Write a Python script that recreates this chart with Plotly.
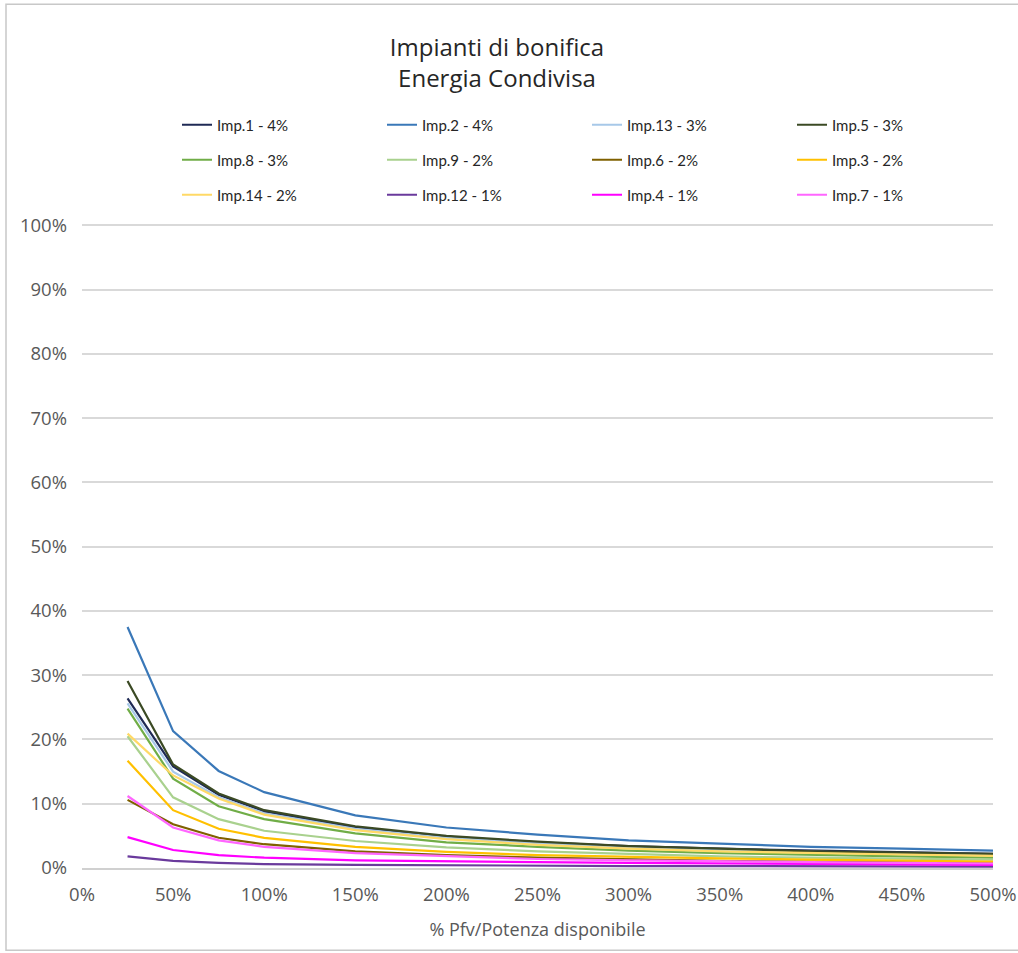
import plotly.graph_objects as go

# Rapporto Pfv / potenza disponibile (frazioni: 0.25 = 25%)
ratio = [0.25, 0.50, 0.75, 1.00, 1.50, 2.00, 2.50, 3.00, 3.50, 4.00, 4.50, 5.00]

# Energia condivisa (%) per impianto
imp1 = [26.4, 15.8, 11.4, 8.8, 6.3, 4.9, 4.0, 3.4, 3.0, 2.7, 2.4, 2.2]
imp2 = [37.5, 21.3, 15.1, 11.8, 8.2, 6.3, 5.2, 4.3, 3.8, 3.3, 3.0, 2.7]
imp13 = [25.6, 15.0, 11.0, 8.5, 6.1, 4.7, 3.9, 3.2, 2.8, 2.5, 2.2, 2.0]
imp5 = [29.1, 16.1, 11.6, 9.0, 6.5, 5.0, 4.1, 3.4, 3.0, 2.6, 2.4, 2.2]
imp8 = [24.8, 13.9, 9.6, 7.6, 5.4, 4.0, 3.3, 2.7, 2.3, 2.0, 1.8, 1.6]
imp9 = [20.5, 11.0, 7.6, 5.8, 4.2, 3.2, 2.6, 2.2, 1.8, 1.6, 1.4, 1.3]
imp6 = [10.6, 6.8, 4.7, 3.7, 2.6, 2.0, 1.6, 1.3, 1.1, 1.0, 0.9, 0.8]
imp3 = [16.7, 9.0, 6.1, 4.7, 3.3, 2.5, 2.0, 1.7, 1.5, 1.3, 1.1, 1.0]
imp14 = [20.9, 14.4, 10.8, 8.3, 5.9, 4.5, 3.6, 3.0, 2.6, 2.3, 2.1, 1.9]
imp12 = [1.8, 1.1, 0.8, 0.6, 0.5, 0.4, 0.35, 0.3, 0.3, 0.25, 0.25, 0.2]
imp4 = [4.8, 2.8, 2.0, 1.6, 1.2, 1.0, 0.9, 0.8, 0.7, 0.6, 0.55, 0.5]
imp7 = [11.2, 6.3, 4.3, 3.3, 2.3, 1.8, 1.4, 1.2, 1.0, 0.9, 0.8, 0.7]

series_names = [
    "Imp.1 - 4%", "Imp.2 - 4%", "Imp.13 - 3%", "Imp.5 - 3%",
    "Imp.8 - 3%", "Imp.9 - 2%", "Imp.6 - 2%", "Imp.3 - 2%",
    "Imp.14 - 2%", "Imp.12 - 1%", "Imp.4 - 1%", "Imp.7 - 1%",
]
series_values = [imp1, imp2, imp13, imp5, imp8, imp9, imp6, imp3, imp14, imp12, imp4, imp7]
series_colors = [
    "#1F2A55", "#3A78B8", "#A7C8E8", "#3B4A24",
    "#70AD47", "#A9D18E", "#7F6000", "#FFC000",
    "#FFD966", "#6A3A9C", "#FF00FF", "#FF66FF",
]

FONT = "'Open Sans', 'DejaVu Sans', sans-serif"
LEGEND_FONT = "'Liberation Sans Narrow', Lato, 'Open Sans', sans-serif"

W, H = 1018, 953
ML, MR, MT, MB = 82, 25, 224, 85
PW, PH = W - ML - MR, H - MT - MB
Y_TOP = 1.002  # keeps the 100% gridline just inside the plot area

fig = go.Figure()
legend_ids = ["legend", "legend2", "legend3"]
for i, (name, vals, col) in enumerate(zip(series_names, series_values, series_colors)):
    fig.add_trace(go.Scatter(
        x=ratio, y=[v / 100 for v in vals], name=name, mode="lines",
        line=dict(color=col, width=2.2),
        legend=legend_ids[i // 4],
    ))

# one horizontal legend per row of four entries
legend_rows_y = [125, 160, 195]
legend_common = dict(
    orientation="h", xref="container", x=177 / W, xanchor="left",
    yref="container", yanchor="middle",
    entrywidth=160, entrywidthmode="pixels",
    bgcolor="rgba(0,0,0,0)", borderwidth=0,
    font=dict(family=LEGEND_FONT, size=15, color="#262626"),
)
legend_layouts = {
    lid: dict(legend_common, y=1 - ry / H) for lid, ry in zip(legend_ids, legend_rows_y)
}

fig.update_layout(
    width=W, height=H,
    margin=dict(l=ML, r=MR, t=MT, b=MB, autoexpand=False),
    paper_bgcolor="white", plot_bgcolor="white",
    font=dict(family=FONT, color="#595959"),
    title=dict(
        text="Impianti di bonifica<br>Energia Condivisa",
        x=497 / W, xanchor="center", xref="container",
        y=1 - 56 / H, yanchor="top", yref="container",
        font=dict(family=FONT, size=24, color="#262626"),
    ),
    showlegend=True,
    **legend_layouts,
    xaxis=dict(
        range=[0, 5], dtick=0.5, tick0=0, tickformat=".0%",
        showgrid=False, zeroline=False, automargin=False,
        showline=True, linecolor="#D0D0D0", linewidth=1.5,
        ticks="", ticklabelstandoff=9,
        tickfont=dict(family=FONT, size=18.5, color="#595959"),
        title=dict(text="% Pfv/Potenza disponibile", standoff=18,
                   font=dict(family=FONT, size=18, color="#595959")),
    ),
    yaxis=dict(
        range=[0, Y_TOP], dtick=0.1, tickformat=".0%",
        showgrid=True, gridcolor="#D9D9D9", gridwidth=1.5,
        zeroline=False, ticks="", ticklabelstandoff=14, automargin=False,
        tickfont=dict(family=FONT, size=18.5, color="#595959"),
    ),
    shapes=[dict(
        type="rect", xref="paper", yref="paper",
        x0=(6 - ML) / PW, x1=(W + 20 - ML) / PW,
        y0=(H - MB - 950) / PH * Y_TOP, y1=(H - MB - 6) / PH * Y_TOP,
        line=dict(color="#C8C8C8", width=1.5), fillcolor="rgba(0,0,0,0)", layer="below",
    )],
)

fig.write_html("out.html")
